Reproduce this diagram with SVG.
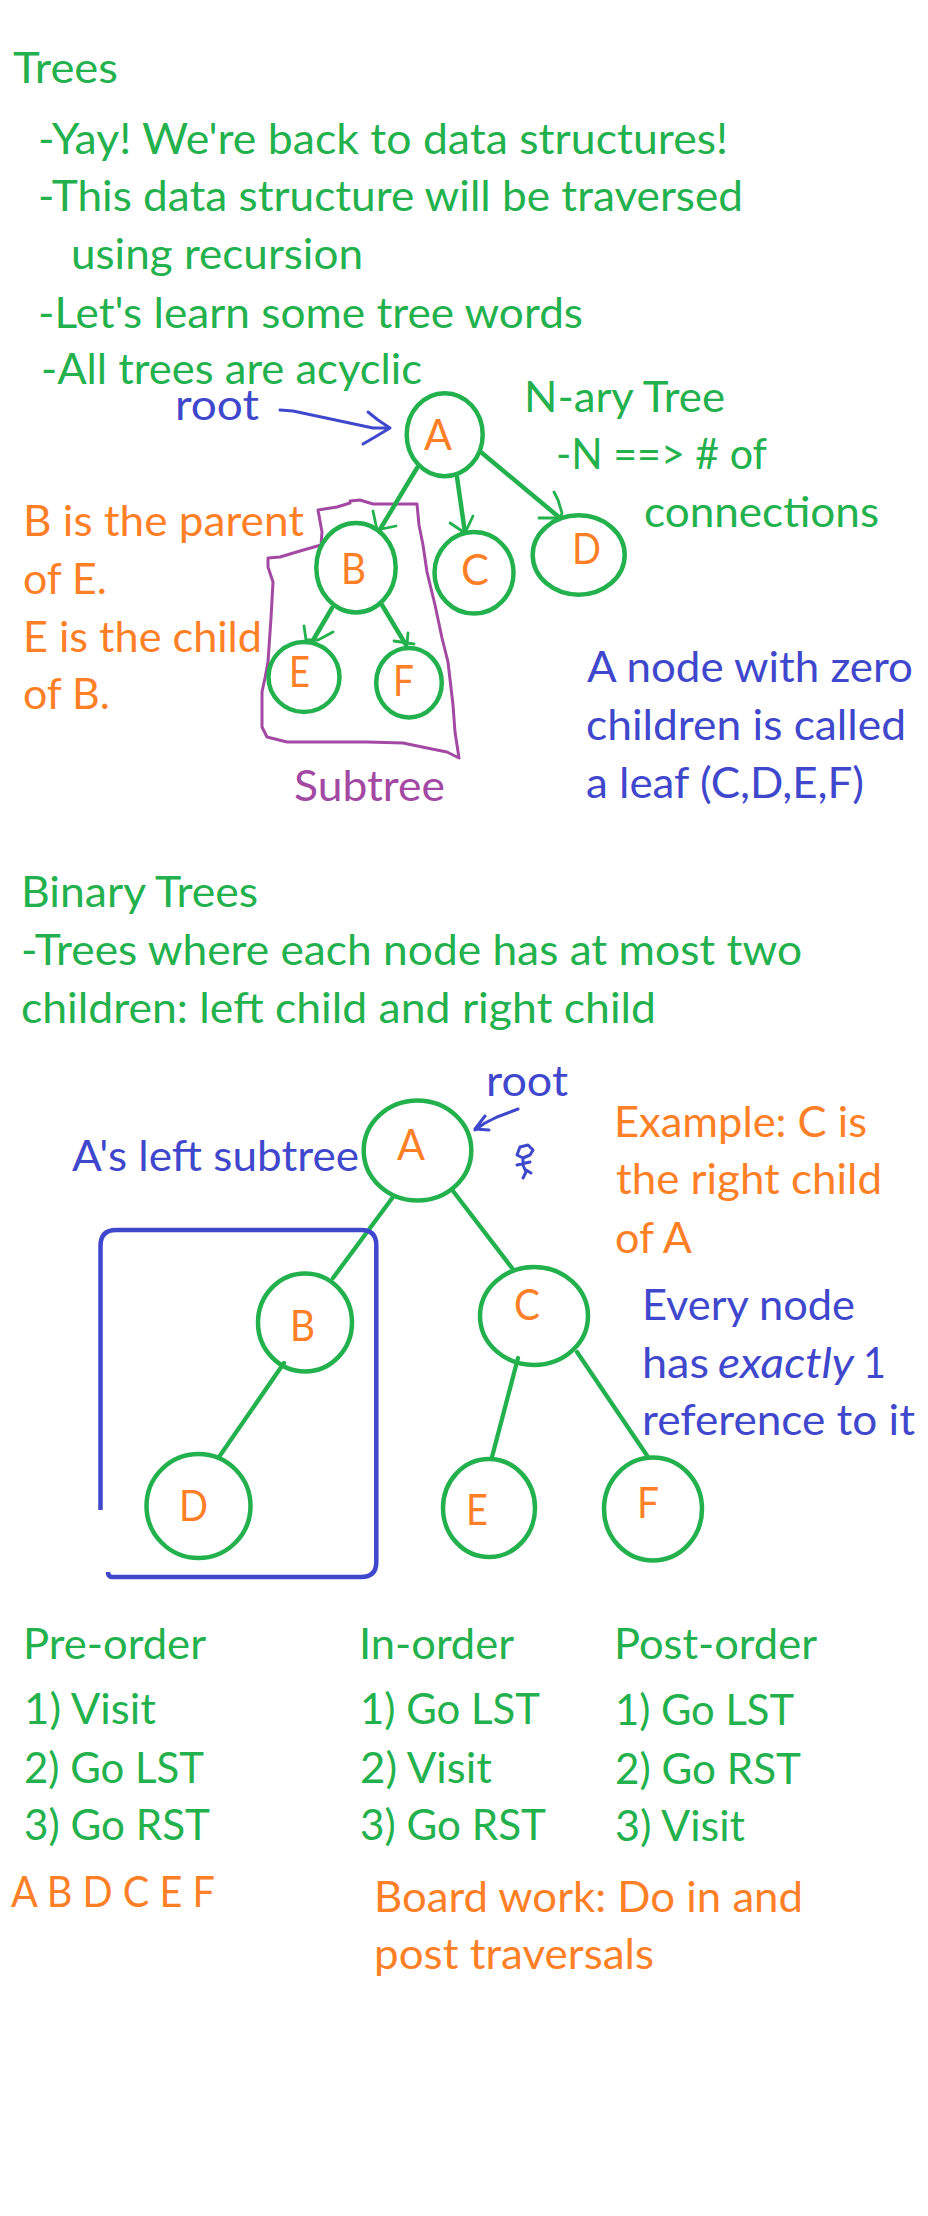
<svg xmlns="http://www.w3.org/2000/svg" width="928" height="2216" viewBox="0 0 928 2216">
<style>
text{font-family:Lato,"Open Sans","Liberation Sans",sans-serif;font-size:42px;transform:translateY(1px)}
.g{fill:#22b14c}.o{fill:#ff7f27}.b{fill:#3f48cc}.p{fill:#a349a4}
ellipse{fill:none;stroke:#22b14c;stroke-width:4.500}
.e{fill:none;stroke:#22b14c;stroke-width:4.500;stroke-linecap:round;stroke-linejoin:round}
.t{fill:none;stroke:#22b14c;stroke-width:4.300;stroke-linecap:round}
.h{fill:none;stroke:#22b14c;stroke-width:2.800;stroke-linecap:round;stroke-linejoin:round}
.bl{fill:none;stroke:#3f48cc;stroke-width:3;stroke-linecap:round;stroke-linejoin:round}
.pu{fill:none;stroke:#a349a4;stroke-width:3;stroke-linecap:round;stroke-linejoin:round}
</style>
<rect width="928" height="2216" fill="#fff"/>
<g id="intro" class="g">
<text x="13" y="82" textLength="105" lengthAdjust="spacingAndGlyphs">Trees</text>
<text x="38" y="153" textLength="690" lengthAdjust="spacingAndGlyphs">-Yay! We're back to data structures!</text>
<text x="38" y="210" textLength="705" lengthAdjust="spacingAndGlyphs">-This data structure will be traversed</text>
<text x="71" y="268" textLength="292" lengthAdjust="spacingAndGlyphs">using recursion</text>
<text x="38" y="327" textLength="545" lengthAdjust="spacingAndGlyphs">-Let's learn some tree words</text>
<text x="41" y="383" textLength="381" lengthAdjust="spacingAndGlyphs">-All trees are acyclic</text>
</g>
<g id="nary-label" class="g">
<text x="524" y="411" textLength="201" lengthAdjust="spacingAndGlyphs">N-ary Tree</text>
<text x="556" y="468" textLength="211" lengthAdjust="spacingAndGlyphs">-N ==&gt; # of</text>
<text x="644" y="526" textLength="235" lengthAdjust="spacingAndGlyphs">connections</text>
</g>
<g id="root-label-1" class="b"><text x="175" y="419" textLength="84" lengthAdjust="spacingAndGlyphs">root</text></g>
<g id="parent-note" class="o">
<text x="23" y="535" textLength="281" lengthAdjust="spacingAndGlyphs">B is the parent</text>
<text x="23" y="593" textLength="84" lengthAdjust="spacingAndGlyphs">of E.</text>
<text x="23" y="651" textLength="239" lengthAdjust="spacingAndGlyphs">E is the child</text>
<text x="23" y="708" textLength="87" lengthAdjust="spacingAndGlyphs">of B.</text>
</g>
<g id="subtree-label" class="p"><text x="294" y="800" textLength="151" lengthAdjust="spacingAndGlyphs">Subtree</text></g>
<g id="leaf-note" class="b">
<text x="587" y="681" textLength="326" lengthAdjust="spacingAndGlyphs">A node with zero</text>
<text x="586" y="739" textLength="320" lengthAdjust="spacingAndGlyphs">children is called</text>
<text x="586" y="797" textLength="278" lengthAdjust="spacingAndGlyphs">a leaf (C,D,E,F)</text>
</g>
<g id="subtree-outline"><path class="pu" d="M350,501L360,500L373,504L417,504L419,525L423,545L427,572L435,605L442,638L448,662L453,705L455,732L459,758L447,752L427,748L403,743L367,742L287,742L267,737L262,727L262,692L265,678L268,662L271,618L273,582L268,567L268,558L280,557L300,551L321,545L322,532L318,510L337,507L350,503"/></g>
<g id="connectors-nary">
<path class="e" d="M417,468L379,531"/><path class="h" d="M373,511L377,530L396,526"/>
<path class="e" d="M457,477L465,533"/><path class="h" d="M450,523L465,533L473,516"/>
<path class="e" d="M482,453L560,518"/><path class="h" d="M539,518L560,518L562,513L558,500L554,492"/>
<path class="e" d="M332,608L312,642"/><path class="h" d="M304,626L306,640L318,640L333,632"/>
<path class="e" d="M382,605L406,645"/><path class="h" d="M394,641L414,644M408,633L407,644"/>
<path class="bl" d="M280,410L293,411L373,428L390,428M368,412L378,420L390,428L375,437L363,444"/>
</g>
<g id="nary-A"><ellipse cx="444.700" cy="434.700" rx="38" ry="41.500"/><text class="o" x="424" y="449" textLength="28" lengthAdjust="spacingAndGlyphs">A</text></g>
<g id="nary-B"><ellipse cx="356" cy="567.700" rx="39.700" ry="44.700"/><text class="o" x="341" y="583" textLength="25" lengthAdjust="spacingAndGlyphs">B</text></g>
<g id="nary-C"><ellipse cx="474" cy="572.800" rx="39.500" ry="40.800"/><text class="o" x="461" y="584" textLength="28" lengthAdjust="spacingAndGlyphs">C</text></g>
<g id="nary-D"><ellipse cx="578.700" cy="555" rx="46" ry="39.700"/><text class="o" x="572" y="563" textLength="29" lengthAdjust="spacingAndGlyphs">D</text></g>
<g id="nary-E"><ellipse cx="304" cy="677" rx="35.500" ry="35"/><text class="o" x="289" y="686" textLength="21" lengthAdjust="spacingAndGlyphs">E</text></g>
<g id="nary-F"><ellipse cx="409" cy="682.700" rx="32.800" ry="34.700"/><text class="o" x="393" y="695" textLength="21" lengthAdjust="spacingAndGlyphs">F</text></g>

<g id="binary-intro" class="g">
<text x="21" y="906" textLength="237" lengthAdjust="spacingAndGlyphs">Binary Trees</text>
<text x="21" y="964" textLength="781" lengthAdjust="spacingAndGlyphs">-Trees where each node has at most two</text>
<text x="21" y="1022" textLength="635" lengthAdjust="spacingAndGlyphs">children: left child and right child</text>
</g>
<g id="root-label-2" class="b"><text x="486" y="1095" textLength="82" lengthAdjust="spacingAndGlyphs">root</text></g>
<g id="left-subtree-label" class="b"><text x="72" y="1170" textLength="287" lengthAdjust="spacingAndGlyphs">A's left subtree</text></g>
<g id="example-note" class="o">
<text x="614" y="1136" textLength="253" lengthAdjust="spacingAndGlyphs">Example: C is</text>
<text x="616" y="1193" textLength="266" lengthAdjust="spacingAndGlyphs">the right child</text>
<text x="615" y="1252" textLength="77" lengthAdjust="spacingAndGlyphs">of A</text>
</g>
<g id="reference-note" class="b">
<text x="642" y="1319" textLength="213" lengthAdjust="spacingAndGlyphs">Every node</text>
<text y="1377"><tspan x="642" textLength="67" lengthAdjust="spacingAndGlyphs">has</tspan> <tspan x="718" textLength="136" lengthAdjust="spacingAndGlyphs" font-style="italic">exactly</tspan> <tspan x="863" textLength="23" lengthAdjust="spacingAndGlyphs">1</tspan></text>
<text x="642" y="1434" textLength="273" lengthAdjust="spacingAndGlyphs">reference to it</text>
</g>
<g id="connectors-binary">
<path class="t" d="M393,1197L333,1278"/>
<path class="t" d="M453,1191L512,1268"/>
<path class="t" d="M284,1363L219,1457"/>
<path class="t" d="M518,1358L492,1457"/>
<path class="t" d="M577,1352L648,1457"/>
<path class="bl" d="M518,1109L497,1117L485,1123L475,1130M485,1116L475,1129L489,1130"/>
</g>
<g id="left-subtree-box"><path fill="none" stroke="#3f48cc" stroke-width="4.500" d="M100.500,1510V1246Q100.500,1230 116,1230H361Q376.300,1230 376.300,1245V1562Q376.300,1577 361,1577H112Q108,1577 108,1572"/></g>
<g id="stick-figure"><path class="bl" d="M523,1158L517,1155L520,1147L528,1145L533,1150L530,1155L523,1158L523,1165L526,1172L523,1178M517,1165L530,1162M526,1170L531,1173"/></g>
<g id="bin-A"><ellipse cx="417.500" cy="1150.500" rx="53.800" ry="50"/><text class="o" x="397" y="1159" textLength="28" lengthAdjust="spacingAndGlyphs">A</text></g>
<g id="bin-B"><ellipse cx="305" cy="1322.500" rx="47" ry="49"/><text class="o" x="290" y="1340" textLength="25" lengthAdjust="spacingAndGlyphs">B</text></g>
<g id="bin-C"><ellipse cx="534" cy="1316" rx="54" ry="49"/><text class="o" x="514" y="1319" textLength="26" lengthAdjust="spacingAndGlyphs">C</text></g>
<g id="bin-D"><ellipse cx="198.500" cy="1506" rx="52" ry="52"/><text class="o" x="179" y="1520" textLength="29" lengthAdjust="spacingAndGlyphs">D</text></g>
<g id="bin-E"><ellipse cx="489" cy="1508" rx="46" ry="49"/><text class="o" x="466" y="1524" textLength="22" lengthAdjust="spacingAndGlyphs">E</text></g>
<g id="bin-F"><ellipse cx="653" cy="1509" rx="49" ry="51.500"/><text class="o" x="637" y="1517" textLength="22" lengthAdjust="spacingAndGlyphs">F</text></g>

<g id="pre-order" class="g">
<text x="23" y="1658" textLength="183" lengthAdjust="spacingAndGlyphs">Pre-order</text>
<text x="24" y="1723" textLength="132" lengthAdjust="spacingAndGlyphs">1) Visit</text>
<text x="24" y="1782" textLength="180" lengthAdjust="spacingAndGlyphs">2) Go LST</text>
<text x="24" y="1839" textLength="186" lengthAdjust="spacingAndGlyphs">3) Go RST</text>
</g>
<g id="in-order" class="g">
<text x="359" y="1658" textLength="155" lengthAdjust="spacingAndGlyphs">In-order</text>
<text x="360" y="1723" textLength="180" lengthAdjust="spacingAndGlyphs">1) Go LST</text>
<text x="360" y="1782" textLength="132" lengthAdjust="spacingAndGlyphs">2) Visit</text>
<text x="360" y="1839" textLength="186" lengthAdjust="spacingAndGlyphs">3) Go RST</text>
</g>
<g id="post-order" class="g">
<text x="614" y="1658" textLength="203" lengthAdjust="spacingAndGlyphs">Post-order</text>
<text x="615" y="1724" textLength="179" lengthAdjust="spacingAndGlyphs">1) Go LST</text>
<text x="615" y="1783" textLength="186" lengthAdjust="spacingAndGlyphs">2) Go RST</text>
<text x="615" y="1840" textLength="130" lengthAdjust="spacingAndGlyphs">3) Visit</text>
</g>
<g id="preorder-result" class="o"><text x="11" y="1906" textLength="204" lengthAdjust="spacingAndGlyphs">A B D C E F</text></g>
<g id="board-work" class="o">
<text x="374" y="1911" textLength="429" lengthAdjust="spacingAndGlyphs">Board work: Do in and</text>
<text x="374" y="1968" textLength="280" lengthAdjust="spacingAndGlyphs">post traversals</text>
</g>
</svg>
